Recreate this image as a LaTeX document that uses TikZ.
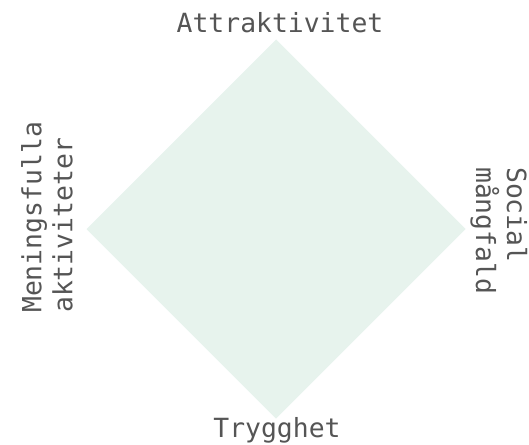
\documentclass[tikz,border=0pt]{standalone}
\usepackage{fontspec}
\usepackage{xcolor}
\usetikzlibrary{positioning, calc}
\newfontfamily\axisfont{DejaVu Sans Mono}
\definecolor{diamondgreen}{HTML}{E7F3ED}
\definecolor{labelgray}{HTML}{555555}

\begin{document}
\begin{tikzpicture}[
    x=1pt, y=-1pt,
    axis/.style={font=\axisfont\fontsize{26.4}{31}\selectfont, text=labelgray,
                 inner sep=0pt, align=left},
]
\useasboundingbox (0,0) rectangle (529,444);

% Diamond
\coordinate (top) at (276,39.5);
\coordinate (right) at (465.5,229);
\coordinate (bottom) at (276,418.5);
\coordinate (left) at (86.5,229);
\fill[diamondgreen] (top) -- (right) -- (bottom) -- (left) -- cycle;

% Axis labels
\node[axis, anchor=base] (attr) at (280,33) {Attraktivitet};
\node[axis, anchor=base] (trygg) at (277,437) {Trygghet};
\node[axis, rotate=90, anchor=west] (mening) at (47,313) {Meningsfulla\\aktiviteter};
\node[axis, rotate=-90, anchor=west] (social) at (499,167) {Social\\mångfald};

\end{tikzpicture}
\end{document}
